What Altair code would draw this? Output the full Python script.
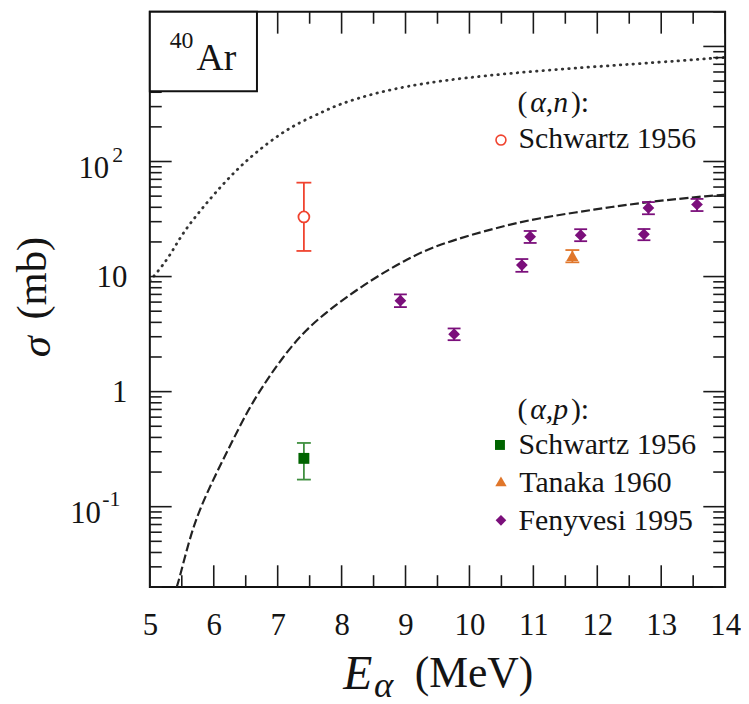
import altair as alt
import pandas as pd

# ---------------- data ----------------
# theoretical curves
curve_n_E = [5.0, 5.09, 5.30, 5.50, 5.76, 6.02, 6.33, 6.64, 7.05, 7.36, 7.73, 7.93, 8.55, 9.49, 11.04, 12.59, 13.99]
curve_n_s = [9.2, 10.5, 14.7, 23.3, 35.8, 53.3, 82, 118, 176, 221, 274, 310, 401, 506, 617, 703, 803]

curve_p_E = [5.42, 5.45, 5.61, 5.76, 6.02, 6.28, 6.54, 6.80, 7.05, 7.42, 7.93, 8.45, 8.97, 9.49, 10.42, 11.04, 11.97, 12.75, 13.84, 14.0]
curve_p_s = [0.020, 0.0224, 0.0497, 0.090, 0.186, 0.361, 0.70, 1.19, 1.89, 3.42, 5.82, 9.24, 13.7, 18.9, 26.6, 32.0, 38.4, 44.4, 50.9, 51.5]

# (alpha,n) Schwartz 1956
an_E = [7.41]
an_s = [33.0]
an_lo = [16.7]
an_hi = [65.5]

# (alpha,p) Schwartz 1956
sch_E = [7.41]
sch_s = [0.263]
sch_lo = [0.172]
sch_hi = [0.358]

# (alpha,p) Tanaka 1960
tan_E = [11.61]
tan_s = [15.2]
tan_lo = [13.3]
tan_hi = [17.0]

# (alpha,p) Fenyvesi 1995
fen_E = [8.92, 9.76, 10.82, 10.95, 11.74, 12.73, 12.80, 13.56]
fen_s = [6.17, 3.16, 12.6, 22.2, 22.9, 23.3, 39.5, 42.3]
fen_lo = [5.43, 2.80, 11.0, 19.6, 20.3, 20.7, 34.8, 37.1]
fen_hi = [7.0, 3.54, 14.2, 24.9, 25.8, 25.9, 44.4, 47.3]

# axis ticks and labels
x_major = [5, 6, 7, 8, 9, 10, 11, 12, 13, 14]
x_minor = [5.5, 6.5, 7.5, 8.5, 9.5, 10.5, 11.5, 12.5, 13.5]
y_major = [0.1, 1, 10, 100, 1000]
y_minor = [k * 10.0 ** e for e in (-2, -1, 0, 1, 2, 3) for k in range(2, 10)
           if 0.02 <= k * 10.0 ** e <= 2000]
y_plain_vals = [10, 1]
y_plain_text = ["10", "1"]

# ---------------- styling ----------------
FONT = "Liberation Serif"
TXT = "#141414"
RED = "#f0432f"
GREEN_BAR = "#3f8f3f"
GREEN = "#006400"
ORANGE = "#e0762a"
PURPLE = "#7b0f7b"
W = H = 580

xscale = alt.Scale(domain=[5, 14], nice=False, zero=False)
yscale = alt.Scale(type="log", domain=[0.02, 2000], nice=False)
xaxis = alt.Axis(values=x_major, labelFontSize=31, labelFont=FONT, labelColor=TXT,
                 ticks=False, tickSize=0, domain=False, grid=False, labelPadding=24,
                 labelFlush=False, labelOverlap=False, format="d")


def X(f):
    return alt.X(f, type="quantitative", scale=xscale, axis=xaxis, title=None)


def Y(f):
    return alt.Y(f, type="quantitative", scale=yscale, axis=None)


one = pd.DataFrame({"a": [0]})


def text(t, x, y, size, align="left", baseline="alphabetic", italic=False, angle=0, color=TXT):
    kw = dict(text=t, fontSize=size, font=FONT, align=align, baseline=baseline, color=color)
    if italic:
        kw["fontStyle"] = "italic"
    if angle:
        kw["angle"] = angle
    return alt.Chart(one).mark_text(**kw).encode(x=alt.value(x), y=alt.value(y))


def sym(shape, x, y, size, color, fill=None):
    if fill:
        m = alt.Chart(one).mark_point(shape=shape, size=size, filled=True, fill=fill,
                                      stroke=color, strokeWidth=1.6, opacity=1)
    else:
        m = alt.Chart(one).mark_point(shape=shape, size=size, filled=True, color=color, opacity=1)
    return m.encode(x=alt.value(x), y=alt.value(y))


layers = []

# curves
cn = pd.DataFrame({"E": curve_n_E, "s": curve_n_s})
cp = pd.DataFrame({"E": curve_p_E, "s": curve_p_s})
layers.append(alt.Chart(cn).mark_line(strokeDash=[0.5, 6], strokeCap="round", strokeWidth=2.8,
                                      color="#333333", clip=True, interpolate="basis")
              .encode(x=X("E"), y=Y("s")))
layers.append(alt.Chart(cp).mark_line(strokeDash=[9, 3.5], strokeWidth=2.2,
                                      color="#222222", clip=True, interpolate="basis")
              .encode(x=X("E"), y=Y("s")))

# inward ticks
TK = "#1a1a1a"
ymaj = pd.DataFrame({"v": y_major})
ymin = pd.DataFrame({"v": y_minor})
xmaj = pd.DataFrame({"v": x_major})
xmin = pd.DataFrame({"v": x_minor})
for df, ln in ((ymaj, 22), (ymin, 12)):
    layers.append(alt.Chart(df).mark_rule(color=TK, strokeWidth=1.6)
                  .encode(y=Y("v"), x=alt.value(0), x2=alt.value(ln)))
    layers.append(alt.Chart(df).mark_rule(color=TK, strokeWidth=1.6)
                  .encode(y=Y("v"), x=alt.value(W), x2=alt.value(W - ln)))
for df, ln in ((xmaj, 22), (xmin, 12)):
    layers.append(alt.Chart(df).mark_rule(color=TK, strokeWidth=1.6)
                  .encode(x=X("v"), y=alt.value(H), y2=alt.value(H - ln)))
    layers.append(alt.Chart(df).mark_rule(color=TK, strokeWidth=1.6)
                  .encode(x=X("v"), y=alt.value(0), y2=alt.value(ln)))


# data with error bars
def series(E, s, lo, hi, barcolor, marker, cap=14):
    df = pd.DataFrame({"E": E, "s": s, "lo": lo, "hi": hi})
    out = [
        alt.Chart(df).mark_rule(color=barcolor, strokeWidth=1.8).encode(x=X("E"), y=Y("lo"), y2="hi:Q"),
        alt.Chart(df).mark_tick(orient="horizontal", size=cap, thickness=1.8, color=barcolor, opacity=1)
        .encode(x=X("E"), y=Y("lo")),
        alt.Chart(df).mark_tick(orient="horizontal", size=cap, thickness=1.8, color=barcolor, opacity=1)
        .encode(x=X("E"), y=Y("hi")),
        alt.Chart(df).mark_point(**marker).encode(x=X("E"), y=Y("s")),
    ]
    return out


layers += series(an_E, an_s, an_lo, an_hi, RED,
                 dict(shape="circle", size=121, filled=True, fill="white", stroke=RED,
                      strokeWidth=1.8, opacity=1), cap=15)
layers += series(sch_E, sch_s, sch_lo, sch_hi, GREEN_BAR,
                 dict(shape="square", size=121, filled=True, color=GREEN, opacity=1), cap=14)
layers += series(tan_E, tan_s, tan_lo, tan_hi, ORANGE,
                 dict(shape="triangle-up", size=150, filled=True, color=ORANGE, opacity=1), cap=14)
layers += series(fen_E, fen_s, fen_lo, fen_hi, PURPLE,
                 dict(shape="diamond", size=140, filled=True, color=PURPLE, opacity=1), cap=13)

# label box 40Ar
layers.append(alt.Chart(one).mark_rect(fill="white", stroke="#111111", strokeWidth=2)
              .encode(x=alt.value(0), x2=alt.value(108), y=alt.value(0), y2=alt.value(80)))
layers.append(text("Ar", 47, 59, 38))
layers.append(text("40", 20, 36, 24))

# legend
layers.append(text("(", 370.7, 101, 30))
layers.append(text("α,n", 383.5, 101, 30, italic=True))
layers.append(text("):", 424.5, 101, 30))
layers.append(sym("circle", 354, 129.3, 100, RED, fill="white"))
layers.append(text("Schwartz 1956", 371.7, 137.7, 30))

layers.append(text("(", 370.7, 411, 30))
layers.append(text("α,p", 383.5, 411, 30, italic=True))
layers.append(text("):", 424.5, 411, 30))
layers.append(sym("square", 353, 436.7, 100, GREEN))
layers.append(text("Schwartz 1956", 371.7, 446, 30))
layers.append(sym("triangle-up", 354, 473.3, 130, ORANGE))
layers.append(text("Tanaka 1960", 372.5, 484.3, 30))
layers.append(sym("diamond", 354, 512.7, 115, PURPLE))
layers.append(text("Fenyvesi 1995", 371.7, 522.7, 30))

# y tick labels
yp = pd.DataFrame({"v": y_plain_vals, "t": y_plain_text})
layers.append(alt.Chart(yp).mark_text(fontSize=31, font=FONT, align="right", baseline="middle",
                                      dy=1.5, color=TXT)
              .encode(y=Y("v"), x=alt.value(-22.7), text="t:N"))
y100 = pd.DataFrame({"v": [100]})
y01 = pd.DataFrame({"v": [0.1]})
layers.append(alt.Chart(y100).mark_text(text="10", fontSize=31, font=FONT, align="right",
                                        baseline="middle", dy=7.5, color=TXT)
              .encode(y=Y("v"), x=alt.value(-41)))
layers.append(alt.Chart(y100).mark_text(text="2", fontSize=22, font=FONT, align="left",
                                        baseline="middle", dy=-6.6, color=TXT)
              .encode(y=Y("v"), x=alt.value(-38)))
layers.append(alt.Chart(y01).mark_text(text="10", fontSize=31, font=FONT, align="right",
                                       baseline="middle", dy=7, color=TXT)
              .encode(y=Y("v"), x=alt.value(-49.3)))
layers.append(alt.Chart(y01).mark_text(text="-1", fontSize=22, font=FONT, align="left",
                                       baseline="middle", dy=-8, color=TXT)
              .encode(y=Y("v"), x=alt.value(-48)))

# axis titles
layers.append(text("(mb)", -118, 268.5, 43, align="center", baseline="middle", angle=270))
layers.append(text("σ", -114, 337.7, 43, align="center", baseline="middle", angle=270, italic=True))
layers.append(text("E", 195, 683, 48, italic=True))
layers.append(text("α", 226, 691, 37, italic=True))
layers.append(text("(MeV)", 267, 681, 44))

chart = (
    alt.layer(*layers)
    .properties(width=W, height=H,
                padding={"left": 143, "top": 1, "right": 16, "bottom": 115},
                autosize=alt.AutoSizeParams(type="none"))
    .configure_view(stroke="#111111", strokeWidth=2)
    .configure_axis(grid=False)
)

chart.save("out.html", embed_options={"renderer": "svg", "actions": False})
